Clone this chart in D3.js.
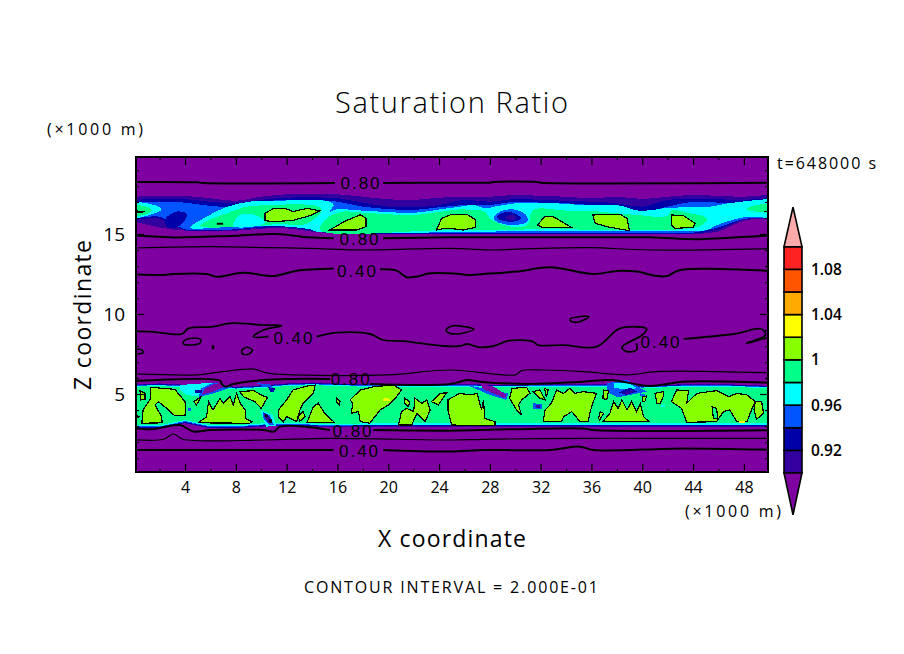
<!DOCTYPE html>
<html><head><meta charset="utf-8">
<script src="https://cdn.jsdelivr.net/npm/d3@7"></script>
<style>html,body{margin:0;background:#fff}svg{display:block}text{font-family:"Open Sans","Liberation Sans",sans-serif;fill:#000}</style>
</head><body><svg id="c" width="904" height="654"></svg>
<script>
// ---- colour scale
const levelBreaks=[0.90,0.92,0.94,0.96,0.98,1.00,1.02,1.04,1.06,1.08,1.10];
const levelColors=["#7f00a0","#3300a0","#0000a8","#0055ff","#00ffff","#00ff88","#88ff00","#ffff00","#ffaa00","#ff5500","#ff2222","#ffaaaa"];
const legendLabels=[0.92,0.96,1,1.04,1.08];
const legendTips=[0.863,1.135];
// ---- axis ticks
const xMajor=[4,8,12,16,20,24,28,32,36,40,44,48];
const xMinor=[2,6,10,14,18,22,26,30,34,38,42,46];
const zMajor=[5,10,15];
const zMinor=[1,2,3,4,6,7,8,9,11,12,13,14,16,17,18,19];
// ---- upper moist layer: edges of the filled levels at each station (km)
const stationX=[-2,0,2,4,6,8,10,12,14,16,18,20,22,24,26,28,30,32,34,36,38,40,42,44,46,48,50,52];
const upTop90=[17.33,17.33,17.4,17.38,17.23,17.08,17.33,17.48,17.5,17.48,17.33,17.17,17.13,17.27,17.33,17.33,17.44,17.38,17.33,17.23,17.33,17.19,17.33,17.44,17.38,17.33,17.44,17.44];
const upTop92=[17.13,17.13,17.21,17.17,17.02,16.92,17.13,17.27,17.29,17.23,16.96,16.71,16.67,16.81,17.13,17.02,17.19,17.13,17.08,17.02,16.92,16.71,17.13,17.19,17.17,17.13,17.23,17.23];
const upTop94=[17,17,17.02,16.96,16.75,16.71,17.02,17.13,17.13,17.02,16.71,16.56,16.5,16.67,16.81,16.81,17.02,16.96,16.92,16.81,16.71,16.4,16.71,17.02,16.96,16.92,17.13,17.13];
const upBot90=[15.75,15.75,15.4,15.21,15.19,15.21,15.33,15.35,15.15,15.02,15,15,15,15,15,15,15,15,15,15,15,15,15,15,15.15,15.83,15.98,15.98];
const upBot92=[15.88,15.88,15.98,15.25,15.21,15.25,15.4,15.42,15.21,15.04,15.02,15.02,15.02,15.02,15.02,15.02,15.02,15.02,15.02,15.02,15.02,15.02,15.02,15.02,15.29,15.92,16.02,16.02];
const upBot94=[15.98,15.98,16.08,15.29,15.25,15.29,15.46,15.5,15.29,15.08,15.04,15.04,15.04,15.04,15.04,15.04,15.04,15.04,15.04,15.04,15.04,15.04,15.04,15.08,15.42,15.94,16.04,16.04];
// ---- lower moist layer
const lowTop90=[5.62,5.62,5.66,5.58,5.62,5.45,5.54,5.66,5.72,5.66,5.62,5.62,5.62,5.62,5.62,5.58,5.58,5.62,5.62,5.62,5.62,5.51,5.58,5.62,5.62,5.58,5.51,5.51];
const lowTop92=[5.58,5.58,5.62,5.54,5.58,5.41,5.5,5.62,5.68,5.62,5.58,5.58,5.58,5.58,5.58,5.54,5.54,5.58,5.58,5.58,5.58,5.47,5.54,5.58,5.58,5.54,5.47,5.47];
const lowTop94=[5.55,5.55,5.59,5.51,5.55,5.38,5.47,5.59,5.65,5.59,5.55,5.55,5.55,5.55,5.55,5.51,5.51,5.55,5.55,5.55,5.55,5.44,5.51,5.55,5.55,5.51,5.44,5.44];
const lowTop96=[5.51,5.51,5.55,5.47,5.51,5.34,5.43,5.55,5.61,5.55,5.51,5.51,5.51,5.51,5.51,5.47,5.47,5.51,5.51,5.51,5.51,5.4,5.47,5.51,5.51,5.47,5.4,5.4];
const lowTop98=[5.46,5.46,5.5,5.42,5.46,5.29,5.38,5.5,5.56,5.5,5.46,5.46,5.46,5.46,5.46,5.42,5.42,5.46,5.46,5.46,5.46,5.35,5.42,5.46,5.46,5.42,5.35,5.35];
const lowBot90=[2.85,2.85,2.85,3.17,2.85,2.85,2.96,3,2.96,2.92,2.96,2.96,2.96,2.96,2.96,2.96,2.96,2.96,2.96,2.96,2.96,2.96,2.96,2.96,2.96,2.96,2.96,2.96];
const lowBot92=[2.89,2.89,2.89,3.21,2.89,2.89,3,3.04,3,2.96,3,3,3,3,3,3,3,3,3,3,3,3,3,3,3,3,3,3];
const lowBot94=[2.93,2.93,2.93,3.25,2.93,2.93,3.04,3.08,3.04,3,3.04,3.04,3.04,3.04,3.04,3.04,3.04,3.04,3.04,3.04,3.04,3.04,3.04,3.04,3.04,3.04,3.04,3.04];
const lowBot96=[2.98,2.98,2.98,3.3,2.98,2.98,3.09,3.13,3.09,3.05,3.09,3.09,3.09,3.09,3.09,3.09,3.09,3.09,3.09,3.09,3.09,3.09,3.09,3.09,3.09,3.09,3.09,3.09];
const lowBot98=[3.05,3.05,3.05,3.37,3.05,3.05,3.16,3.2,3.16,3.12,3.16,3.16,3.16,3.16,3.16,3.16,3.16,3.16,3.16,3.16,3.16,3.16,3.16,3.16,3.16,3.16,3.16,3.16];
// ---- upper layer detail regions [x km, z km]
const upNavyLeft=[[2.5,16],[3.34,16.4],[4.13,16.27],[4,15.88],[3.3,15.4],[2.7,15.4],[2.4,15.7]];
const upCyanMain=[[4.4,15.4],[5.7,16.08],[7.3,16.7],[9.1,17.02],[11.2,17.08],[15.4,17.02],[15.7,16.81],[15.4,16.4],[15.95,16.54],[18,16.46],[22,16.33],[24.1,16.54],[25.65,16.71],[26.7,16.81],[27.75,16.6],[28.3,16.7],[30.1,16.92],[32.2,16.96],[35.4,16.81],[38,16.81],[39.85,16.44],[41.65,16.6],[43.25,16.67],[45.35,16.71],[47.2,16.96],[51,17.02],[51,16.15],[48,16.04],[45.9,15.56],[45.1,15.25],[43.25,15.19],[32.75,15.19],[14.37,15.15],[13.85,15.29],[11.2,15.5],[8.33,15.5]];
const upCyanLeft=[[-1,16.92],[1.24,16.88],[2.16,16.56],[1.24,16.19],[-1,15.98]];
const upSpringLeft=[[-1,16.75],[1.11,16.67],[1.38,16.46],[0.72,16.19],[-1,16.12]];
const upSpringA=[[5.2,15.5],[6,15.92],[7.3,16.29],[8.6,16.67],[10.7,16.81],[14.37,16.75],[14.76,16.5],[14.24,15.98],[13.3,15.56],[11.5,15.63],[9.64,15.5]];
const upCyanPool=[[7.8,15.5],[8.33,16.19],[9.5,16.19],[10.3,15.77],[10,15.56]];
const upSpringB=[[14.63,15.25],[15.16,15.98],[16.47,16.4],[18.04,16.33],[22,16.19],[24.2,16.4],[25.65,16.54],[26.6,16.5],[27.6,16.4],[28.15,15.88],[30.1,15.42],[31,15.63],[31.4,16.5],[34.05,16.46],[35.6,16.46],[39.55,16.19],[41.95,16.12],[42.3,16.46],[43.8,16.29],[45.1,15.98],[44.7,15.56],[43.25,15.31],[32.75,15.29],[24.87,15.25]];
const upSpringRight=[[48.2,16.54],[49,16.81],[51,16.81],[51,16.4]];
const upHoleBlue=[[28.3,15.98],[28.8,16.4],[29.85,16.54],[30.85,16.19],[30.95,15.77],[29.85,15.56],[28.7,15.71]];
const upHoleNavy=[[28.55,16.08],[29.45,16.4],[30.5,15.98],[29.85,15.77],[28.8,15.88]];
const upHoleDark=[[29.2,16.08],[30,16.15],[30,15.94],[29.35,15.94]];
// ---- lower layer detail regions
const lowCyanMess=[[3.6,5.56],[6.23,5.71],[7.15,5.5],[5.3,4.83],[4.13,4.94],[3.6,5.25]];
const lowBlueWedgeA=[[7,5.67],[7.4,5.35],[6.23,5.04],[5.05,4.79],[5.3,5.35],[6.23,5.71]];
const lowPurpleWedgeA=[[6.9,5.7],[7.15,5.46],[6.2,5.15],[5.3,4.94],[5.55,5.35],[6.2,5.6]];
const lowNavySpeckA=[[4.8,5.25],[5.3,5.25],[5.3,5.04],[4.8,5.04]];
const lowBlueSpeckA=[[9.64,5.67],[10.7,5.62],[10.96,5.35],[10.43,5.42]];
const lowNavySpeckB=[[10.56,5.42],[11.1,5.35],[10.96,5.1],[10.7,5.15]];
const lowBlueSpeckB=[[4.2,4.1],[4.5,4.1],[4.5,3.95],[4.2,3.95]];
const lowNotchCyan=[[9.9,4],[10.9,3.7],[11.2,3],[10.4,2.96]];
const lowNotchBlue=[[10.1,3.9],[10.7,3.65],[11,3.06],[10.56,3.1],[10.15,3.5]];
const lowNotchDark=[[10.2,3.85],[10.65,3.58],[10.9,3.17],[10.56,3.17],[10.25,3.58]];
const lowBlueWedgeB=[[26.2,5.56],[29.45,5.04],[29.3,4.63],[28,4.94]];
const lowPurpleWedgeB=[[27.25,5.62],[28.3,5.46],[29.3,4.94],[29.2,4.73],[28.3,5.04],[27.5,5.29]];
const lowBlobBlue=[[37.2,5.67],[38.8,5.88],[40.35,5.15],[38.1,4.79],[37.2,5.15]];
const lowBlobCyan=[[37.8,5.7],[38.9,5.72],[39.6,5.35],[38.4,5.3],[37.8,5.4]];
const lowBlobNavy=[[38.12,5.1],[39.05,5.4],[39.6,5.15],[38.8,4.94]];
const lowBlobDark=[[38.5,5.1],[39.2,5.25],[39.3,5.08],[38.8,5]];
const lowSpeckBlue=[[31.4,4.42],[32.1,4.38],[32.1,4.06],[31.4,4.06]];
const lowSpeckDark=[[31.6,4.3],[31.95,4.3],[31.95,4.15],[31.6,4.15]];
const lowSpeckBlueB=[[39.85,5.04],[40.2,5],[40.2,4.9],[39.85,4.9]];
const lowSpeckCyan=[[41.45,4.31],[41.8,4.31],[41.8,4.17],[41.45,4.17]];
// ---- areas above 1.00 (outlined)
const wetUpper=[
 [[10.3,16.3],[11,16.6],[11.9,16.6],[12.5,16.4],[13.6,16.6],[14.6,16.45],[13.85,16.15],[12.5,15.85],[11,15.77],[10.3,15.83]],
 [[15.4,15.25],[16.5,15.77],[17.8,16.2],[18.25,15.98],[18.25,15.46],[17.5,15.25]],
 [[23.8,15.25],[24.2,15.98],[24.9,16.2],[26.2,16.23],[26.9,15.88],[26.9,15.42],[25.9,15.25],[24.9,15.35],[24.4,15.35]],
 [[31.75,15.56],[32.35,16.12],[33,16.08],[34.45,15.4],[32.1,15.42]],
 [[36.1,16.19],[38.25,16.23],[38.8,15.98],[39,15.2],[37.2,15.46],[36.3,15.67]],
 [[42.3,16.19],[43.25,16.15],[44.15,15.67],[44,15.42],[42.6,15.35],[42.3,15.56]],
 [[-1,16.5],[0.85,16.4],[-1,16.2]],
 [[49.6,16.4],[51,16.5],[51,16.3]]
];
const wetLower=[
 [[1.3,5.42],[3.2,5.29],[4,4.52],[4.05,3.69],[3.2,3.63],[2.56,4.1],[1.9,4.52],[1.64,4.31],[2.16,3.58],[2.2,3.2],[0.6,3.17],[0.7,4],[1.3,4.73]],
 [[-1,3.9],[0.45,3.58],[-1,3.38]],
 [[0.45,5.2],[0.85,5.04],[0.85,4.67],[0.53,4.63]],
 [[4.7,4.52],[5.3,4.87],[4.9,4.31]],
 [[5.05,3.2],[5.7,3.58],[5.85,4.52],[6.2,4],[6.75,4.73],[7,4.42],[7.55,4.83],[7.8,4.31],[8.05,5.04],[8.35,4.42],[8.75,4],[8.75,3.48],[9.25,3.27],[9.1,3.17]],
 [[8.3,5.15],[9.4,5.21],[10.15,4.88],[10.5,4.79],[10,4.1],[9.5,4.52],[8.6,4.83]],
 [[11.35,4],[12,4.63],[12.5,5.25],[13.6,5.5],[14.25,5.56],[14.1,5.04],[13.3,4.42],[13.05,4],[12.8,3.27],[12,3.58],[11.75,3.27],[11.35,3.58]],
 [[12.9,3.58],[13.3,3.9],[13.45,3.58],[13.05,3.31]],
 [[13.6,3.2],[14.1,4.21],[14.5,4.42],[15,3.79],[15.75,3.23]],
 [[15.95,4.73],[16.2,4.52],[16.15,4.31],[15.9,4.52]],
 [[17,4.63],[17.8,5.25],[18.85,5.46],[20.4,5.56],[21.05,5.25],[20.55,4.73],[20,4.31],[19.35,4],[18.55,3.17],[17.8,3.27],[17.65,3.9],[17.1,3.79],[17.2,4.42]],
 [[20.8,3.06],[21.05,3.9],[21.45,4.1],[22,3.9],[22.1,4.73],[22.65,4.42],[23.05,4.63],[23.3,4],[22.9,3.27],[22.25,3.79],[21.85,3.06]],
 [[21.3,4.73],[21.7,4.52],[21.6,4.21],[21.3,4.42]],
 [[23.4,4.52],[24.1,5.04],[24.6,5.08],[23.95,4.31]],
 [[24.7,4.63],[24.9,4.73],[25.65,5.04],[26.45,4.94],[27,5.04],[27.35,4],[27.5,4.63],[27.6,3.48],[28.4,3.27],[28.4,3.02],[25,3.06],[24.7,4]],
 [[29.55,4.73],[29.75,5.35],[30.9,5.42],[31.15,5.04],[30.5,4.63],[30.25,4.31],[30.5,3.69],[30.1,4]],
 [[31.4,5.15],[31.95,5.25],[32.35,4.63],[31.95,4.73]],
 [[32.3,5.35],[32.6,5.25],[32.45,4.83]],
 [[32.2,3.27],[32.35,4],[32.85,4.42],[33.25,5.25],[33.8,5.04],[34.3,5.35],[34.7,5.04],[35.35,5.15],[36.4,5.04],[36.15,4.52],[35.9,3.9],[35.75,3.27],[35.1,3.27],[34.45,3.9],[33.8,3.58],[33.65,3.27]],
 [[36.9,3.27],[37.45,3.79],[37.75,4.52],[38.1,4.1],[38.4,4.63],[38.8,4],[39.15,4.52],[39.55,3.9],[39.85,4.42],[40.1,3.58],[40.55,3.27]],
 [[36.95,5.25],[37.35,5.21],[37.2,4.63],[36.9,4.73]],
 [[36.55,3.48],[36.7,3.9],[36.95,3.79],[36.65,3.38]],
 [[40,4.83],[40.35,4.88],[40.2,4.52],[40,4.52]],
 [[41,5.04],[41.65,5.15],[41.65,4.83],[41.4,4.42],[41.15,4.42]],
 [[42.3,4.52],[42.7,5.25],[43.65,5.21],[43.5,4.42],[44.3,5.04],[45.85,5.21],[46.8,4.83],[47.45,5.04],[48.25,4.94],[48.9,4.52],[48.6,4],[48.25,3.27],[47.45,3.27],[46.9,4],[46.4,3.9],[45.85,3.27],[43.5,3.23],[43.1,4.1]],
 [[48.9,4.52],[49.4,4.52],[49.55,3.79],[49,3.42],[48.8,4]]
];
const lowHole=[[45.5,4.21],[45.85,4.1],[45.95,3.48],[45.6,3.48]];
const yellowA=[[19.6,4.7],[19.9,4.78],[20.2,4.6],[19.6,4.55]];
const yellowB=[[47.65,3.3],[48.1,3.3],[48.1,3.16],[47.65,3.16]];
// ---- contour lines
const line80Top=[[[-1,18.25],[5,18.23],[5.4,18.19],[15.8,18.19]],[[19.6,18.19],[25,18.21],[28,18.21],[28.3,18.25],[31.7,18.25],[32,18.21],[51,18.21]]];
const line80Mid=[[[-1,14.94],[0.85,14.88],[2.8,14.79],[7.55,14.88],[11.2,15],[13.6,14.79],[15.7,14.73]],[[19.6,14.73],[24.87,14.79],[27.5,14.79],[32.75,14.79],[40.6,14.79],[44.3,14.67],[49.3,14.88],[51,14.94]]];
const line60Mid=[[[-1,14.1],[5.97,14.21],[10.17,14.15],[13.84,14.1],[18.04,14],[24.87,14.1],[28.3,14],[30.1,14.06],[35.9,14.15],[40.6,14],[51,14.1]]];
const line40High=[[[-1,12.5],[2.3,12.44],[3.08,12.5],[5.7,12.5],[6.5,12.33],[8.6,12.58],[11,12.375],[12.8,12.71],[15.7,12.85]],[[19.35,12.79],[20.65,12.71],[21.45,12.3],[22.3,12.35],[23.3,12.54],[25.65,12.5],[26.2,12.44],[27.5,12.5],[30.1,12.65],[32.75,12.92],[36.15,12.5],[38,12.69],[39.55,12.65],[41.15,12.375],[41.95,12.375],[43,12.75],[51,12.65]]];
const line40MidA=[[[-1,8.9],[1.24,8.9],[3.74,8.75],[4.26,9.1],[6.23,9.21],[7.54,9.42],[10.17,9.31],[11.6,9.27],[10.17,9],[9.38,8.58],[10.56,8.58]]];
const line40MidB=[[[14.37,8.58],[15.94,8.83],[18.57,8.75],[19.62,8.375],[21.19,8.3],[24.34,8],[25.65,8],[26.2,8.125],[27.2,7.92],[28.3,8],[29.5,8.33],[31.4,8.27],[31.8,8.06],[33.8,8.06],[36.4,7.96],[38.25,9.1],[40.35,9.06],[40,8.69],[38.4,7.92],[38.8,7.65],[39.55,7.75],[39.55,8.17]]];
const line40MidC=[[[43.25,8.44],[47.2,8.75],[49.4,9.06],[49.7,8.69],[48.2,8.17],[49.7,8.48],[51,8.6]]];
const loops=[
 [[3.87,8.27],[4.5,8.48],[5.2,8.42],[5.2,8.21],[4.5,8.06],[3.87,8.12]],
 [[8.46,7.71],[8.85,7.92],[9.3,7.75],[8.99,7.48],[8.54,7.5]],
 [[-0.5,7.75],[0.59,7.75],[0.72,7.58],[-0.5,7.54]],
 [[24.55,9],[25,9.25],[26,9.21],[26.75,9.04],[26,8.83],[25.4,8.75],[24.8,8.8]],
 [[34.3,9.67],[35,9.83],[35.8,9.83],[35.4,9.625],[34.85,9.48],[34.37,9.56]]
];
const dots=[
 [[6.1,8.05],[6.3,8.05],[6.3,7.8],[6.1,7.8]],
 [[10.3,3.72],[10.5,3.72],[10.5,3.55],[10.3,3.55]],
 [[10.6,3.42],[10.85,3.42],[10.85,3.2],[10.6,3.2]],
 [[6.5,15.7],[7,15.7],[7,15.58],[6.5,15.58]]
];
const line60Low=[[[-1,6.29],[5,6.2],[7,6.4],[9.4,6.56],[10.5,6.3],[12.5,6.2],[20,6.2],[24.9,6.5],[30,6.2],[30.5,6.46],[32.2,6.5],[35.4,6.4],[38.8,6.2],[41.15,6.4],[45.9,6.4],[51,6.3]]];
const line80Low=[[[-1,5.77],[6.76,5.83],[6.9,5.625],[7.15,5.46],[7.8,5.625],[10.17,5.875],[12.27,5.94],[15.42,5.94]],[[18.57,5.625],[24.87,5.625],[26.2,5.875],[27.2,5.77],[31.2,5.625],[35.35,5.77],[37.5,5.875],[40.6,5.5],[43.25,5.77],[51,5.67]]];
const line80Bot=[[[-1,2.96],[1.24,2.79],[3.6,3.06],[4.66,2.65],[6,2.75],[10.17,2.75],[11,2.65],[11.5,2.96],[15.4,2.75]],[[18.83,2.75],[24.87,2.71],[35.37,2.85],[36.15,2.75],[51,2.75]]];
const line60Bot=[[[-1,2.19],[2.3,2.17],[3.08,2.5],[3.87,2.17],[10.17,2.125],[15.42,2.23],[25,2.125],[27.5,2.17],[35.4,2.23],[40.6,2.23],[51,2.23]]];
const line40Bot=[[[-1,1.5],[15.7,1.5]],[[19.6,1.5],[24.87,1.4],[27.5,1.5],[32.75,1.5],[35.1,1.71],[36.15,1.5],[43.25,1.6],[51,1.5]]];
// ---- contour labels: text, x km, z km
const contourLabels=[["0.80",17.78,18.19],["0.80",17.7,14.69],["0.40",17.5,12.75],["0.40",12.5,8.56],["0.40",41.4,8.31],["0.80",17,5.94],["0.80",17.15,2.75],["0.40",17.66,1.5]];

const svg=d3.select("#c");
const x=d3.scaleLinear().domain([0.14,49.9]).range([136,768]);
const z=d3.scaleLinear().domain([0.125,19.8125]).range([472,157]);
const color=d3.scaleThreshold().domain(levelBreaks).range(levelColors);
svg.append("defs").append("clipPath").attr("id","fr").append("rect").attr("x",136).attr("y",157).attr("width",632).attr("height",315);
const plot=svg.append("g").attr("clip-path","url(#fr)");
plot.append("rect").attr("x",136).attr("y",157).attr("width",632).attr("height",315).attr("fill",color(0.89));
const path=d3.line().x(d=>x(d[0])).y(d=>z(d[1]));
const smooth=d3.line().x(d=>x(d[0])).y(d=>z(d[1])).curve(d3.curveCatmullRom.alpha(0.5));
const smoothClosed=d3.line().x(d=>x(d[0])).y(d=>z(d[1])).curve(d3.curveCatmullRomClosed.alpha(0.5));
const closed=d=>path(d)+"Z";
function fill(v,pts,outline){const p=plot.append("path").attr("d",closed(pts)).attr("fill",color(v)).attr("shape-rendering","crispEdges");
  if(outline)p.attr("stroke","#000").attr("stroke-width",1.2);return p;}
function fillS(v,pts){return plot.append("path").attr("d",smoothClosed(pts)).attr("fill",color(v)).attr("shape-rendering","crispEdges");}
const band=(top,bot)=>stationX.map((s,i)=>[s,top[i]]).concat(stationX.map((s,i)=>[s,bot[i]]).reverse());

// filled levels, lowest first
fillS(0.91,band(upTop90,upBot90));
fillS(0.93,band(upTop92,upBot92));
fillS(0.95,band(upTop94,upBot94));
fillS(0.93,upNavyLeft);
fillS(0.97,upCyanMain);fillS(0.97,upCyanLeft);
fillS(0.99,upSpringLeft);fillS(0.99,upSpringA);fillS(0.97,upCyanPool);fillS(0.99,upSpringB);fillS(0.99,upSpringRight);
fillS(0.95,upHoleBlue);fillS(0.93,upHoleNavy);fillS(0.91,upHoleDark);

fill(0.91,band(lowTop90,lowBot90));
fill(0.93,band(lowTop92,lowBot92));
fill(0.95,band(lowTop94,lowBot94));
fill(0.97,band(lowTop96,lowBot96));
fill(0.99,band(lowTop98,lowBot98));
fill(0.97,lowCyanMess);fill(0.95,lowBlueWedgeA);fill(0.89,lowPurpleWedgeA);fill(0.93,lowNavySpeckA);fill(0.95,lowBlueSpeckB);
fill(0.95,lowBlueSpeckA);fill(0.93,lowNavySpeckB);
fill(0.97,lowNotchCyan);fill(0.95,lowNotchBlue);fill(0.91,lowNotchDark);
fill(0.95,lowBlueWedgeB);fill(0.89,lowPurpleWedgeB);
fill(0.95,lowBlobBlue);fill(0.97,lowBlobCyan);fill(0.93,lowBlobNavy);fill(0.91,lowBlobDark);
fill(0.95,lowSpeckBlue);fill(0.91,lowSpeckDark);fill(0.95,lowSpeckBlueB);fill(0.97,lowSpeckCyan);

wetUpper.forEach(p=>fill(1.01,p,true));
wetLower.forEach(p=>fill(1.01,p,true));
fill(0.99,lowHole,true);
fill(1.03,yellowA);fill(1.03,yellowB);

function lines(list,w){list.forEach(l=>plot.append("path").attr("d",smooth(l)).attr("fill","none").attr("stroke","#000").attr("stroke-width",w));}
lines(line80Top,2);lines(line80Mid,2);lines(line60Mid,1.2);lines(line40High,2);
lines(line40MidA,1.8);lines(line40MidB,1.8);lines(line40MidC,1.8);
lines(line60Low,1.2);lines(line80Low,2);lines(line80Bot,2);lines(line60Bot,1.2);lines(line40Bot,2);
loops.forEach(l=>plot.append("path").attr("d",smoothClosed(l)).attr("fill","none").attr("stroke","#000").attr("stroke-width",1.6));
dots.forEach(l=>plot.append("path").attr("d",closed(l)).attr("fill","#000"));

contourLabels.forEach(d=>svg.append("text").text(d[0]).attr("x",x(d[1])).attr("y",z(d[2])+6.5)
  .attr("text-anchor","middle").attr("font-size",17).attr("textLength",39).attr("lengthAdjust","spacing").style("font-family",'"Liberation Sans",sans-serif'));

// axes
function ax(gen,tx,ty,len,labels,pad){const g=svg.append("g").attr("transform",`translate(${tx},${ty})`).call(gen.tickSizeInner(-len).tickSizeOuter(0).tickPadding(pad||3));
  g.select(".domain").remove();g.selectAll("line").attr("stroke","#000").attr("stroke-width",1.2);
  if(!labels)g.selectAll("text").remove();else g.selectAll("text").attr("font-size",labels).attr("font-family",'"Open Sans",sans-serif');return g;}
ax(d3.axisBottom(x).tickValues(xMajor).tickFormat(d3.format("d")),0,472,8,16,10);
ax(d3.axisBottom(x).tickValues(xMinor),0,472,3);
ax(d3.axisTop(x).tickValues(xMajor),0,157,8);
ax(d3.axisTop(x).tickValues(xMinor),0,157,3);
ax(d3.axisLeft(z).tickValues(zMajor).tickFormat(d3.format("d")),136,0,8,19,11);
ax(d3.axisLeft(z).tickValues(zMinor),136,0,3);
ax(d3.axisRight(z).tickValues(zMajor),768,0,8);
ax(d3.axisRight(z).tickValues(zMinor),768,0,3);
svg.append("rect").attr("x",136).attr("y",157).attr("width",632).attr("height",315).attr("fill","none").attr("stroke","#000").attr("stroke-width",2);

// colour bar
const ly=d3.scaleLinear().domain([0.90,1.10]).range([473,246.7]);
const lx0=784,lx1=802,lm=793;
d3.pairs(levelBreaks).forEach(([a,b])=>svg.append("rect").attr("x",lx0).attr("width",lx1-lx0).attr("y",ly(b)).attr("height",ly(a)-ly(b)).attr("fill",color((a+b)/2)).attr("stroke","#000").attr("stroke-width",1.6));
svg.append("path").attr("d",`M${lx0},${ly(0.9)}L${lm},${ly(legendTips[0])}L${lx1},${ly(0.9)}Z`).attr("fill",color(0.89)).attr("stroke","#000").attr("stroke-width",1.6);
svg.append("path").attr("d",`M${lx0},${ly(1.1)}L${lm},${ly(legendTips[1])}L${lx1},${ly(1.1)}Z`).attr("fill",color(1.11)).attr("stroke","#000").attr("stroke-width",1.6);
legendLabels.forEach(v=>svg.append("text").text(String(v)).attr("x",811).attr("y",ly(v)+5.5).attr("font-size",15.5).attr("font-weight",600));

// annotations
function label(t,px,py,size,len,rot,w){const e=svg.append("text").text(t).attr("font-size",size).attr("textLength",len).attr("lengthAdjust","spacing").attr("font-weight",w||400);
  if(rot)e.attr("transform",`translate(${px},${py}) rotate(-90)`);else e.attr("x",px).attr("y",py);return e;}
label("Saturation Ratio",335,113,29,233,false,300);
label("(×1000 m)",47,135,16,96);
label("(×1000 m)",685,517,16,96);
label("t=648000 s",777,169,16,99);
label("Z coordinate",91,390,23,150,true);
label("X coordinate",378,547,23,148);
label("CONTOUR INTERVAL = 2.000E-01",304,593,16,294);
</script></body></html>
